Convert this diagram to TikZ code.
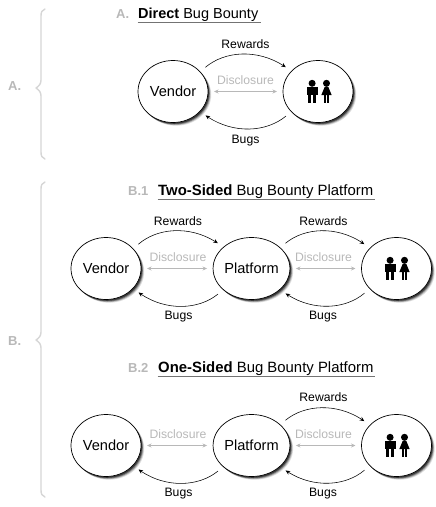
\documentclass[tikz,border=0pt]{standalone}
\usepackage{fontspec}
\setmainfont{Liberation Sans}
\usetikzlibrary{shapes.geometric,arrows.meta,bending}
\definecolor{lg}{gray}{0.72}
\definecolor{brc}{gray}{0.84}
\tikzset{
  bub/.style={shape=ellipse,draw=black,line width=0.7pt,fill=white,minimum width=70pt,minimum height=62pt,inner sep=0pt,outer sep=0pt,font=\fontsize{14.6}{16}\selectfont,
    preaction={draw=none,fill=black,fill opacity=.12,transform canvas={xshift=3.2pt,yshift=-3.2pt}},
    preaction={draw=none,fill=black,fill opacity=.2,transform canvas={xshift=2.5pt,yshift=-2.6pt}},
    preaction={draw=none,fill=black,fill opacity=.35,transform canvas={xshift=1.8pt,yshift=-2pt}},
    preaction={draw=none,fill=black,fill opacity=.5,transform canvas={xshift=1.1pt,yshift=-1.3pt}}},
  flow/.style={draw=black,line width=0.55pt,-{Stealth[length=4.5pt,width=4pt]},bend left=40,shorten >=7pt,shorten <=7pt},
  disc/.style={draw=lg,line width=0.8pt,{Stealth[length=4.5pt,width=4pt]}-{Stealth[length=4.5pt,width=4pt]},shorten >=6pt,shorten <=6pt},
  lab/.style={font=\fontsize{12.2}{14}\selectfont,inner sep=0pt,text=black},
  dlab/.style={font=\fontsize{12.2}{14}\selectfont,inner sep=0pt,text=lg},
  ttl/.style={font=\fontsize{14.9}{16}\selectfont,inner sep=0pt,anchor=base west},
  gl/.style={font=\bfseries\fontsize{13}{15}\selectfont,inner sep=0pt,text=lg,anchor=base west},
  rule/.style={draw=black!55,line width=0.9pt},
  brace/.style={draw=brc,line width=1.4pt,line cap=round,line join=round},
}
\newcommand{\people}[2]{%
  \begin{scope}[shift={(#1,#2)}]
    \fill (-6.4,-8.2) circle (3.5);
    \fill (-12,-4.6) rectangle (-0.4,3.6);
    \fill (-10.6,3) rectangle (-7.1,11.5);
    \fill (-5.9,3) rectangle (-2.4,11.5);
    \fill (8,-8.2) circle (3.5);
    \fill (8,-5) -- (9.8,-4.6) -- (13.2,3.6) -- (2.8,3.6) -- (6.2,-4.6) -- cycle;
    \fill (5.4,3) rectangle (7.4,11.5);
    \fill (8.6,3) rectangle (10.6,11.5);
  \end{scope}}
\begin{document}
\begin{tikzpicture}[x=1pt,y=-1pt]
\useasboundingbox (0,0) rectangle (436,507);

% braces
\draw[brace] (45,9) .. controls (42,10) and (41,12) .. (41,16) -- (41,80) .. controls (41,84) and (39,86) .. (36,88) .. controls (39,90) and (41,92) .. (41,96) -- (41,152) .. controls (41,156) and (42,158) .. (45,159);
\draw[brace] (45,182) .. controls (42,183) and (41,185) .. (41,189) -- (41,332) .. controls (41,336) and (39,338) .. (36,340) .. controls (39,342) and (41,344) .. (41,348) -- (41,490) .. controls (41,494) and (42,496) .. (45,497);
\node[gl] (la) at (8,90) {A.};
\node[gl] (lb) at (8,345.5) {B.};

% A
\node[gl] (ta) at (116,18) {A.};
\node[ttl,font=\fontsize{14.5}{16}\selectfont] (tA) at (138,18) {\textbf{Direct} Bug Bounty};
\draw[rule] (137.5,22) -- (260.5,22);
\node[bub] (av) at (173,91.5) {Vendor};
\node[bub] (ap) at (318,91.5) {};
\people{318.5}{91.5}
\draw[flow] (av.36) to (ap.143);
\draw[flow] (ap.217) to (av.-36);
\draw[disc] (av) -- (ap);
\node[lab] (ar) at (245.5,44.5) {Rewards};
\node[dlab] (ad) at (245.5,80.5) {Disclosure};
\node[lab] (ab) at (245.5,140.5) {Bugs};

% B1
\node[gl] (tb1) at (128,195) {B.1};
\node[ttl] (tB1) at (158,195) {\textbf{Two-Sided} Bug Bounty Platform};
\draw[rule] (157.5,199) -- (374.5,199);
\node[bub] (bv) at (106,268.5) {Vendor};
\node[bub] (bm) at (251.5,268.5) {Platform};
\node[bub] (bp) at (396.5,268.5) {};
\people{396.5}{268.5}
\draw[flow] (bv.36) to (bm.143);
\draw[flow] (bm.36) to (bp.143);
\draw[flow] (bm.217) to (bv.-36);
\draw[flow] (bp.217) to (bm.-36);
\draw[disc] (bv) -- (bm);
\draw[disc] (bm) -- (bp);
\node[lab] (br1) at (178,221) {Rewards};
\node[lab] (br2) at (323.5,221) {Rewards};
\node[dlab] (bd1) at (178,257) {Disclosure};
\node[dlab] (bd2) at (323.5,257) {Disclosure};
\node[lab] (bb1) at (178.5,317) {Bugs};
\node[lab] (bb2) at (323,317) {Bugs};

% B2
\node[gl] (tb2) at (128,372) {B.2};
\node[ttl] (tB2) at (158,372) {\textbf{One-Sided} Bug Bounty Platform};
\draw[rule] (157.5,376) -- (374.5,376);
\node[bub] (cv) at (106,445.5) {Vendor};
\node[bub] (cm) at (251.5,445.5) {Platform};
\node[bub] (cp) at (396.5,445.5) {};
\people{396.5}{445.5}
\draw[flow] (cm.36) to (cp.143);
\draw[flow] (cm.217) to (cv.-36);
\draw[flow] (cp.217) to (cm.-36);
\draw[disc] (cv) -- (cm);
\draw[disc] (cm) -- (cp);
\node[lab] (cr2) at (323.5,397.5) {Rewards};
\node[dlab] (cd1) at (178,434) {Disclosure};
\node[dlab] (cd2) at (323.5,434) {Disclosure};
\node[lab] (cb1) at (178.5,494) {Bugs};
\node[lab] (cb2) at (323,494) {Bugs};
\end{tikzpicture}
\end{document}
